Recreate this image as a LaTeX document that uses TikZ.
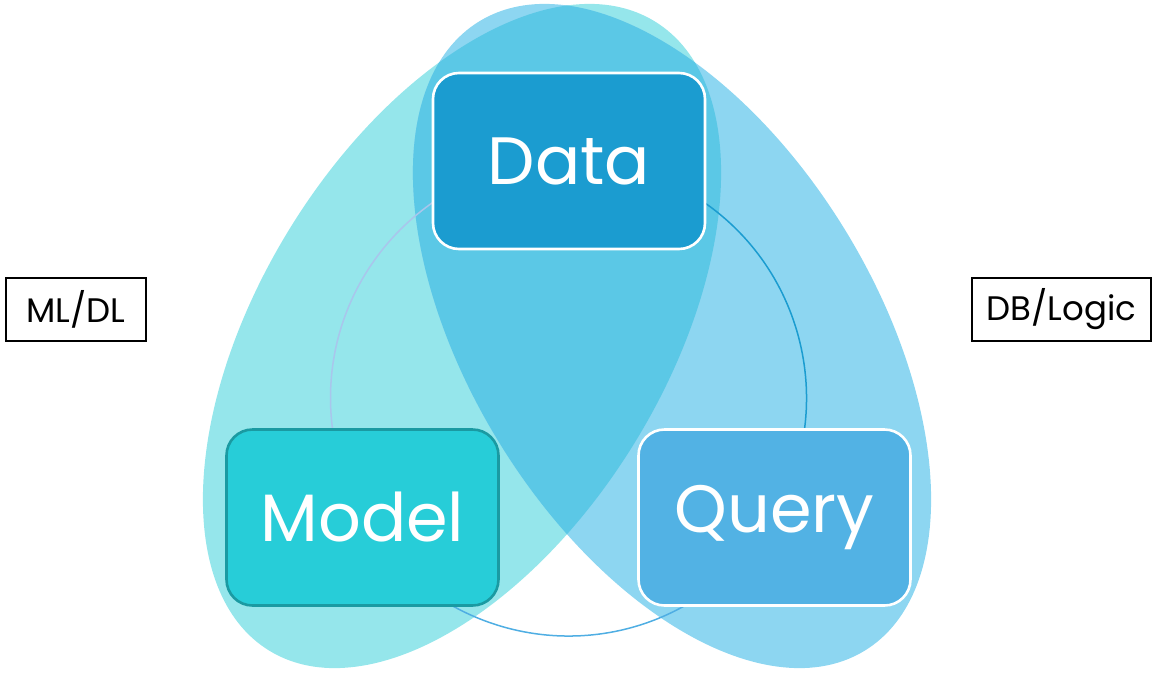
\documentclass[tikz,border=0pt]{standalone}
\usepackage{fontspec}
\setmainfont{Poppins}
\usetikzlibrary{positioning}
\definecolor{mlfill}{HTML}{95E6EB}
\definecolor{dbfill}{HTML}{8DD6F1}
\definecolor{both}{HTML}{5BC8E6}
\definecolor{datablue}{HTML}{1B9CD0}
\definecolor{modelteal}{HTML}{27CDD8}
\definecolor{modeledge}{HTML}{1A9AA2}
\definecolor{queryblue}{HTML}{52B2E4}
\definecolor{ringpale}{HTML}{A9C6EC}
\definecolor{ringmid}{HTML}{4FAEE3}
\tikzset{
  stage/.style={draw=#1,line width=2.6pt,rounded corners=26pt,minimum width=272pt,minimum height=176pt,inner sep=0pt,text=white,font=\fontsize{67}{67}\selectfont},
  tag/.style={draw=black,line width=2pt,minimum height=63pt,inner sep=0pt,font=\fontsize{34}{34}\selectfont},
  ring/.style={line width=1.5pt,draw=#1}
}
\begin{document}
\begin{tikzpicture}[x=1pt,y=1pt]
  \useasboundingbox (0,0) rectangle (1157,-673);
  % the two fields
  \coordinate (mlc) at (462,-336);
  \coordinate (dbc) at (672,-336);
  \fill[mlfill,rotate around={58.5:(mlc)}] (mlc) ellipse [x radius=369, y radius=203];
  \fill[dbfill,rotate around={-58.5:(dbc)}] (dbc) ellipse [x radius=369, y radius=203];
  \begin{scope}
    \clip[rotate around={58.5:(mlc)}] (mlc) ellipse [x radius=369, y radius=203];
    \fill[both,rotate around={-58.5:(dbc)}] (dbc) ellipse [x radius=369, y radius=203];
  \end{scope}

  % cycle behind the boxes
  \coordinate (ctr) at (568.5,-398);
  \draw[ring=ringpale] (ctr) ++(90:238) arc[start angle=90, end angle=210, radius=238];
  \draw[ring=ringmid] (ctr) ++(210:238) arc[start angle=210, end angle=330, radius=238];
  \draw[ring=datablue] (ctr) ++(330:238) arc[start angle=330, end angle=450, radius=238];

  \node[stage=white,fill=datablue] (data) at (569,-161) {Data};
  \node[stage=modeledge,fill=modelteal] (model) at (362.5,-517.5) {Model};
  \node[stage=white,fill=queryblue] (query) at (774.5,-517.5) {Query};

  \node[tag,minimum width=140pt] (mldl) at (76,-309.5) {ML/DL};
  \node[tag,minimum width=179pt] (dblogic) at (1061.5,-309.5) {DB/Logic};
\end{tikzpicture}
\end{document}
